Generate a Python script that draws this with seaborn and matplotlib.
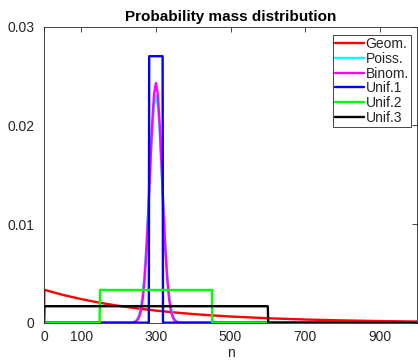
import numpy as np
import pandas as pd
import matplotlib
matplotlib.use("Agg")
import matplotlib.pyplot as plt
import seaborn as sns

# ---- data -------------------------------------------------------------
series_names = ["Geom.", "Poiss.", "Binom.", "Unif.1", "Unif.2", "Unif.3"]
series_colors = ["#FF0000", "#00FFFF", "#FF00FF", "#0000FF", "#00FF00", "#000000"]

geom_n = [0, 1, 50, 100, 150, 200, 250, 300, 350, 400, 450, 500,
          600, 700, 800, 900, 1000]
geom_p = [0.0, 0.003333, 0.002821, 0.002387, 0.002020, 0.001709, 0.001447,
          0.001224, 0.001036, 0.000877, 0.000742, 0.000628, 0.000450,
          0.000322, 0.000231, 0.000165, 0.000118]

poiss_n = [0, 230, 240, 245, 250, 255, 260, 265, 270, 275, 280, 285, 290,
           295, 300, 305, 310, 315, 320, 325, 330, 335, 340, 345, 350, 355,
           360, 370, 1000]
poiss_p = [0.0, 0.0, 0.00006, 0.00015, 0.00036, 0.00079, 0.00160, 0.00299,
           0.00514, 0.00813, 0.01182, 0.01583, 0.01950, 0.02209, 0.02303,
           0.02209, 0.01950, 0.01583, 0.01182, 0.00813, 0.00514, 0.00299,
           0.00160, 0.00079, 0.00036, 0.00015, 0.00006, 0.0, 0.0]

binom_n = [0, 235, 240, 245, 250, 255, 260, 265, 270, 275, 280, 285, 290,
           295, 300, 305, 310, 315, 320, 325, 330, 335, 340, 345, 350, 355,
           360, 365, 1000]
binom_p = [0.0, 0.0, 0.00003, 0.00009, 0.00024, 0.00057, 0.00126, 0.00251,
           0.00459, 0.00763, 0.01158, 0.01601, 0.02017, 0.02318, 0.02428,
           0.02318, 0.02017, 0.01601, 0.01158, 0.00763, 0.00459, 0.00251,
           0.00126, 0.00057, 0.00024, 0.00009, 0.00003, 0.0, 0.0]

unif1_n = [0, 281, 282, 318, 319, 1000]
unif1_p = [0.0, 0.0, 0.0270, 0.0270, 0.0, 0.0]

unif2_n = [0, 149, 150, 450, 451, 1000]
unif2_p = [0.0, 0.0, 0.00332, 0.00332, 0.0, 0.0]

unif3_n = [0, 1, 600, 601, 1000]
unif3_p = [0.0, 0.00167, 0.00167, 0.0, 0.0]

x_ticks = [0, 100, 300, 500, 700, 900]
y_ticks = [0, 0.01, 0.02, 0.03]
y_tick_labels = ["0", "0.01", "0.02", "0.03"]

# ---- long-form table --------------------------------------------------
parts = []
for name, n, p in zip(series_names,
                      [geom_n, poiss_n, binom_n, unif1_n, unif2_n, unif3_n],
                      [geom_p, poiss_p, binom_p, unif1_p, unif2_p, unif3_p]):
    parts.append(pd.DataFrame({"n": n, "p": p, "dist": name,
                               "order": np.arange(len(n))}))
df = pd.concat(parts, ignore_index=True)

# ---- figure -------------------------------------------------------------
sns.set_theme(style="white")
plt.rcParams["font.family"] = ["Liberation Sans", "DejaVu Sans"]
ink = "#262626"

fig = plt.figure(figsize=(4.18, 3.60), dpi=100)
ax = fig.add_axes([44 / 418, 1 - 322.7 / 360, 373 / 418, (322.7 - 26.6) / 360])

sns.lineplot(data=df, x="n", y="p", hue="dist", hue_order=series_names,
             palette=series_colors, sort=False, estimator=None, units="dist",
             linewidth=1.7, ax=ax)

ax.set_xlim(0, 1000)
ax.set_ylim(0, 0.03)
ax.set_xticks(x_ticks)
ax.set_xticklabels([str(t) for t in x_ticks])
ax.set_yticks(y_ticks)
ax.set_yticklabels(y_tick_labels)
ax.tick_params(direction="in", length=3.5, width=0.6, colors=ink,
               labelsize=10, top=True, right=True, pad=5)
ax.tick_params(axis="y", pad=7)
for s in ax.spines.values():
    s.set_visible(True)
    s.set_color(ink)
    s.set_linewidth(0.6)

ax.set_xlabel("n", fontsize=10, color=ink, labelpad=2)
ax.set_ylabel("")
ax.set_title("Probability mass distribution", fontsize=11, fontweight="bold",
             color="black", pad=4)

handles, labels = ax.get_legend_handles_labels()
leg = ax.legend(handles, labels, loc="upper right",
                bbox_to_anchor=(1 - 6 / 373, 1 - 8.5 / 296),
                fontsize=10, frameon=True, fancybox=False, shadow=False,
                borderaxespad=0, borderpad=0.15, labelspacing=0.05,
                handlelength=2.1, handletextpad=0.1, framealpha=1)
leg.get_frame().set_edgecolor(ink)
leg.get_frame().set_linewidth(0.6)
for line in leg.get_lines():
    line.set_linewidth(1.7)

fig.savefig("out.png", dpi=100)
